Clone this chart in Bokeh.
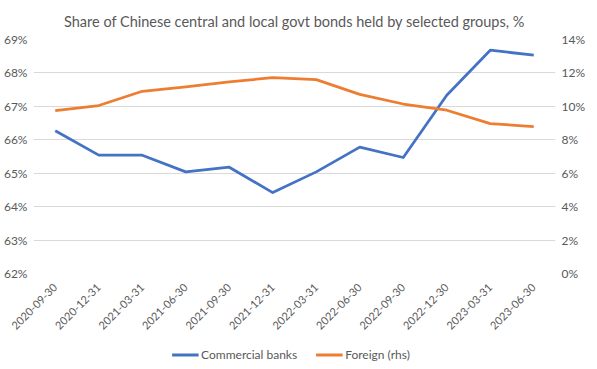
from bokeh.plotting import figure
from bokeh.layouts import column
from bokeh.models import (Range1d, FactorRange, LinearAxis, SingleIntervalTicker,
                          PrintfTickFormatter, Legend, LegendItem, ColumnDataSource)
from bokeh.embed import file_html
from bokeh.resources import INLINE
from math import pi

dates = ["2020-09-30", "2020-12-31", "2021-03-31", "2021-06-30", "2021-09-30",
         "2021-12-31", "2022-03-31", "2022-06-30", "2022-09-30", "2022-12-30",
         "2023-03-31", "2023-06-30"]
commercial_banks = [66.27, 65.54, 65.54, 65.04, 65.18, 64.42, 65.04, 65.78, 65.47,
                    67.33, 68.68, 68.53]
foreign_rhs = [9.75, 10.05, 10.90, 11.16, 11.46, 11.72, 11.60, 10.72, 10.14, 9.77,
               8.97, 8.79]
series_names = ["Commercial banks", "Foreign (rhs)"]

FONT = "Lato"
TXT = "#595959"
BLUE = "#4472C4"
ORANGE = "#ED7D31"

src = ColumnDataSource(dict(d=dates, cb=commercial_banks, fr=foreign_rhs))

p = figure(frame_width=522, frame_height=234, output_backend="svg", toolbar_location=None,
           x_range=FactorRange(factors=dates, range_padding=0),
           y_range=Range1d(62, 69),
           min_border_left=28, min_border_right=31, min_border_top=39,
           min_border_bottom=0)
p.extra_y_ranges = {"rhs": Range1d(0, 14)}

p.title.text = "Share of Chinese central and local govt bonds held by selected groups, %"
p.title.align = "center"
p.title.text_font = FONT
p.title.text_font_size = "14.5px"
p.title.text_font_style = "normal"
p.title.text_color = TXT
p.title.standoff = 20

p.outline_line_color = None
p.xgrid.grid_line_color = None
p.ygrid.grid_line_color = "#D9D9D9"
p.ygrid.grid_line_width = 1
p.yaxis.ticker = SingleIntervalTicker(interval=1)
p.yaxis.formatter = PrintfTickFormatter(format="%d%%")

rax = LinearAxis(y_range_name="rhs", ticker=SingleIntervalTicker(interval=2),
                 formatter=PrintfTickFormatter(format="%d%%"))
p.add_layout(rax, "right")

for ax in [p.xaxis[0], p.yaxis[0], rax]:
    ax.axis_line_color = None
    ax.major_tick_line_color = None
    ax.minor_tick_line_color = None
    ax.major_tick_out = 0
    ax.major_tick_in = 0
    ax.minor_tick_out = 0
    ax.major_label_text_font = FONT
    ax.major_label_text_font_size = "12px"
    ax.major_label_text_color = TXT
    ax.major_label_standoff = 6

p.xaxis.major_label_orientation = pi / 4
p.xaxis.major_label_standoff = 12
p.xaxis.major_label_text_font_size = "11px"
p.xaxis.axis_label_standoff = 0

p.line("d", "cb", source=src, line_color=BLUE, line_width=2.75, line_join="round")
p.line("d", "fr", source=src, line_color=ORANGE, line_width=2.75, line_join="round",
       y_range_name="rhs")

# legend strip under the chart (series drawn out of view, only legend shows)
lg = figure(width=581, height=30, output_backend="svg", toolbar_location=None,
            x_range=FactorRange(factors=dates, range_padding=0), y_range=Range1d(0, 1),
            x_axis_location=None, y_axis_location=None,
            min_border_left=0, min_border_right=0, min_border_top=6,
            min_border_bottom=0)
lg.outline_line_color = None
lg.xgrid.grid_line_color = None
lg.ygrid.grid_line_color = None
k1 = lg.line("d", "cb", source=src, line_color=BLUE, line_width=3)
k2 = lg.line("d", "fr", source=src, line_color=ORANGE, line_width=3)
legend = Legend(items=[LegendItem(label=series_names[0], renderers=[k1]),
                       LegendItem(label=series_names[1], renderers=[k2])],
                orientation="horizontal", location="center",
                border_line_color=None, background_fill_alpha=0,
                label_text_font=FONT, label_text_font_size="12px",
                label_text_color=TXT, glyph_width=27, glyph_height=14,
                label_height=14, label_standoff=3,
                spacing=18, padding=0, margin=0)
lg.add_layout(legend, "center")

layout = column(p, lg, spacing=0)
open("out.html", "w").write(file_html(layout, INLINE))
